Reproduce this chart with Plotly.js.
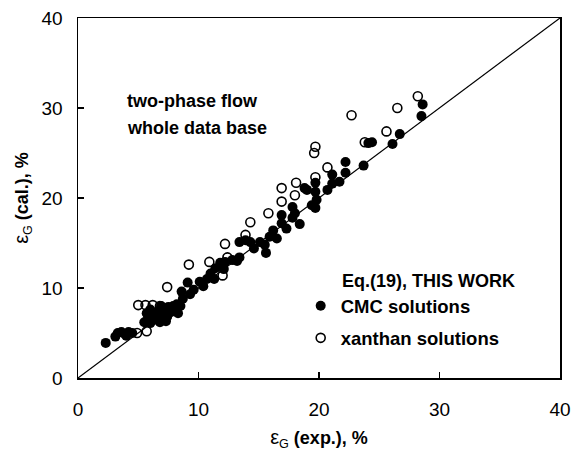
<!DOCTYPE html>
<html>
<head>
<meta charset="utf-8">
<script src="https://cdn.plot.ly/plotly-3.0.1.min.js"></script>
<style>html,body{margin:0;padding:0;background:#fff;}#chart{width:572px;height:454px;}</style>
</head>
<body>
<div id="chart"></div>
<script>
// CMC solutions: experimental vs calculated gas holdup (%)
const cmcExp = [2.3,3.1,3.3,3.6,3.9,4.2,4.5,4.0,5.5,5.8,6.0,6.2,6.4,6.6,6.8,7.0,7.2,7.4,7.5,7.7,7.9,8.0,8.2,8.5,8.7,6.0,5.7,6.9,7.3,8.3,
  8.6,9.1,9.3,9.6,10.1,10.4,10.7,11.0,11.3,11.4,11.8,12.2,12.1,12.8,13.2,13.4,13.4,13.9,14.3,14.6,15.1,15.5,15.9,15.6,16.2,16.5,
  16.9,16.9,17.3,17.8,17.8,18.4,18.0,18.8,19.0,19.4,19.7,19.7,19.8,19.7,20.7,21.1,21.1,21.7,22.2,22.2,23.7,24.1,24.4,26.1,26.7,28.5,28.6];
const cmcCal = [3.9,4.6,5.0,5.1,4.9,5.1,5.0,4.7,6.2,6.6,6.1,7.0,6.5,7.3,6.2,6.9,7.6,6.8,7.9,7.3,8.0,7.5,8.2,8.0,8.8,7.6,7.2,8.0,6.3,7.2,
  9.6,10.6,9.3,9.8,10.7,10.2,11.0,11.6,11.0,12.2,12.8,12.9,12.1,13.1,13.0,13.4,15.1,15.3,15.1,14.4,15.1,14.8,15.7,13.9,16.4,15.5,
  17.2,18.1,16.6,17.8,19.0,17.1,18.3,21.1,20.9,19.2,20.7,21.7,19.8,18.9,20.9,22.6,21.6,21.8,22.8,24.0,23.6,26.1,26.2,26.0,27.1,29.1,30.4];
// xanthan solutions
const xanExp = [4.9,5.7,5.0,5.6,6.2,6.8,7.4,9.2,10.9,12.0,12.4,12.2,13.9,14.3,15.8,16.9,16.9,18.0,18.1,19.7,19.6,19.7,20.7,22.7,23.8,25.6,26.5,28.2];
const xanCal = [5.0,5.2,8.1,8.1,8.1,8.0,10.1,12.6,12.9,11.4,13.4,14.9,15.9,17.3,18.3,19.6,21.1,20.3,21.7,22.3,25.0,25.7,23.4,29.2,26.2,27.4,30.0,31.3];
// parity line y = x
const parity = [0, 40];
const tickVals = [0, 10, 20, 30, 40];

const FONT = 'Liberation Sans, Arial, sans-serif';

const traces = [
  {x: parity, y: parity, mode: 'lines', line: {color: '#000', width: 1.2}, showlegend: false, hoverinfo: 'skip'},
  {x: cmcExp, y: cmcCal, mode: 'markers', name: 'CMC solutions', legendgroup: 'a',
   marker: {symbol: 'circle', size: 10, color: '#000', line: {color: '#000', width: 0}}},
  {x: xanExp, y: xanCal, mode: 'markers', name: 'xanthan solutions', legendgroup: 'b',
   marker: {symbol: 'circle-open', size: 9, color: '#000', line: {color: '#000', width: 1.6}}}
];

const axisCommon = {
  range: [0, 40], tickvals: tickVals, ticktext: tickVals.map(String),
  showline: true, mirror: true, linecolor: '#000', linewidth: 1.5,
  ticks: 'inside', ticklen: 6, tickcolor: '#000', tickwidth: 1.2,
  showgrid: false, zeroline: false,
  tickfont: {family: FONT, size: 19, color: '#000'}
};

const layout = {
  width: 572, height: 454,
  margin: {l: 78, r: 12, t: 18, b: 76},
  paper_bgcolor: '#fff', plot_bgcolor: '#fff',
  font: {family: FONT, color: '#000'},
  xaxis: Object.assign({}, axisCommon, {
    ticklabelstandoff: 14,
    title: {text: '<span style="font-size:20px">ε</span><sub>G</sub> <b>(exp.), %</b>', font: {family: FONT, size: 18, color: '#000'}, standoff: 12}
  }),
  yaxis: Object.assign({}, axisCommon, {
    ticklabelstandoff: 10,
    title: {text: '<span style="font-size:20px">ε</span><sub>G</sub> <b>(cal.), %</b>', font: {family: FONT, size: 18, color: '#000'}, standoff: 8}
  }),
  showlegend: true,
  legend: {
    x: 0.462, y: 0.252, xanchor: 'left', yanchor: 'top',
    bgcolor: 'rgba(0,0,0,0)', borderwidth: 0,
    font: {family: FONT, size: 18.5, color: '#000', weight: 'bold'},
    traceorder: 'grouped', tracegroupgap: 5
  },
  annotations: [
    {xref: 'paper', yref: 'paper', x: 0.097, y: 0.77, xanchor: 'left', yanchor: 'middle', showarrow: false,
     text: '<b>two-phase flow</b>', font: {family: FONT, size: 18, color: '#000'}},
    {xref: 'paper', yref: 'paper', x: 0.097, y: 0.695, xanchor: 'left', yanchor: 'middle', showarrow: false,
     text: '<b>whole data base</b>', font: {family: FONT, size: 18, color: '#000'}},
    {xref: 'paper', yref: 'paper', x: 0.543, y: 0.27, xanchor: 'left', yanchor: 'middle', showarrow: false,
     text: '<b>Eq.(19), THIS WORK</b>', font: {family: FONT, size: 18, color: '#000'}}
  ]
};

Plotly.newPlot('chart', traces, layout, {displayModeBar: false, staticPlot: true});
</script>
</body>
</html>
